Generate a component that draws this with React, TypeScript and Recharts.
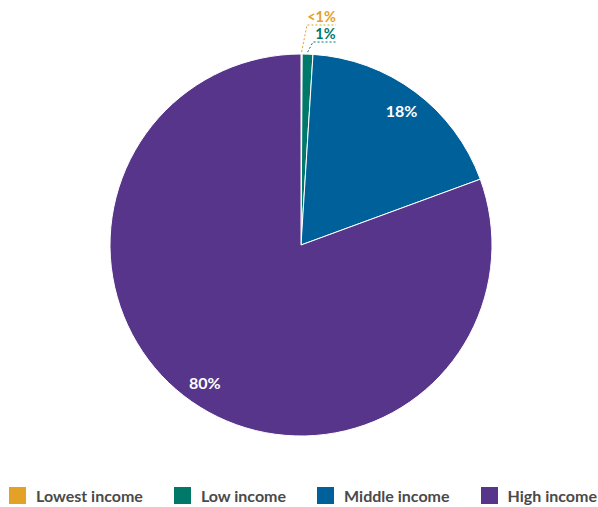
import React from 'react';
import { PieChart, Pie, Cell, Legend } from 'recharts';

const categories = ['Lowest income', 'Low income', 'Middle income', 'High income'];
const shares = [0.1, 0.9, 18.4, 80.6];
const labels = ['<1%', '1%', '18%', '80%'];
const colors = ['#E3A126', '#00796B', '#00619A', '#56358A'];

const data = categories.map((name, i) => ({ name, value: shares[i], label: labels[i] }));

const RAD = Math.PI / 180;

const renderLabel = (props: any) => {
  const { cx, cy, midAngle, outerRadius, index } = props;
  const font = 'Lato, "Open Sans", sans-serif';
  if (index >= 2) {
    const r = outerRadius * 0.88;
    const x = cx + r * Math.cos(-midAngle * RAD);
    const y = cy + r * Math.sin(-midAngle * RAD);
    return (
      <text x={x} y={y} fill="#fff" fontFamily={font} fontWeight={700} fontSize={16} textAnchor="middle" dominantBaseline="central">
        {labels[index]}
      </text>
    );
  }
  const px = cx + outerRadius * Math.cos(-midAngle * RAD);
  const py = cy + outerRadius * Math.sin(-midAngle * RAD);
  const elbowY = index === 0 ? cy - outerRadius - 29 : cy - outerRadius - 12;
  const elbowX = index === 0 ? cx + 6 : cx + 12;
  const endX = cx + 35;
  const color = colors[index];
  return (
    <g>
      <polyline points={`${px},${py - 2} ${elbowX},${elbowY} ${endX},${elbowY}`} fill="none" stroke={color} strokeWidth={1} strokeDasharray="2 2" />
      <text x={(elbowX + endX) / 2 + (index === 0 ? 0 : 1)} y={elbowY - 3} fill={color} fontFamily={font} fontWeight={700} fontSize={14.5} textAnchor="middle">
        {labels[index]}
      </text>
    </g>
  );
};

const renderLegend = () => (
  <div style={{ display: 'flex', justifyContent: 'space-between', width: 588, marginLeft: 9, fontFamily: 'Lato, "Open Sans", sans-serif' }}>
    {data.map((d, i) => (
      <div key={d.name} style={{ display: 'flex', alignItems: 'center' }}>
        <span style={{ width: 17, height: 17, background: colors[i], display: 'inline-block', marginRight: 10 }} />
        <span style={{ fontSize: 16, fontWeight: 700, color: '#4a4a4a' }}>{d.name}</span>
      </div>
    ))}
  </div>
);

export default function App() {
  return (
    <div style={{ position: 'absolute', left: 0, top: 0, width: 598, height: 507, background: '#fff' }}>
      <PieChart width={598} height={507} margin={{ top: 0, right: 0, bottom: 0, left: 0 }}>
        <Pie
          data={data}
          dataKey="value"
          nameKey="name"
          cx={301}
          cy={245}
          outerRadius={191}
          startAngle={90}
          endAngle={-270}
          stroke="#fff"
          strokeWidth={1}
          label={renderLabel}
          labelLine={false}
          isAnimationActive={false}
        >
          {data.map((d, i) => (
            <Cell key={d.name} fill={colors[i]} />
          ))}
        </Pie>
        <Legend verticalAlign="bottom" align="left" content={renderLegend} wrapperStyle={{ bottom: 2, left: 0 }} />
      </PieChart>
    </div>
  );
}
